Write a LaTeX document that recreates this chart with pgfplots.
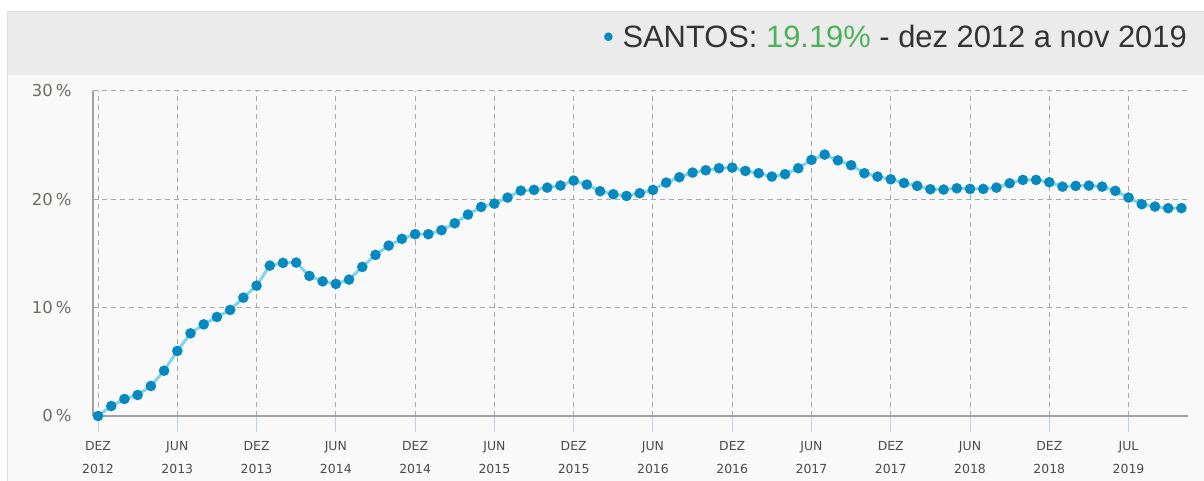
\documentclass[border=0pt]{standalone}
\usepackage{pgfplots}
\pgfplotsset{compat=1.18}
\usepackage{fontspec}
\setmainfont{DejaVu Sans}
\newfontfamily\titlefont{Liberation Sans}
\definecolor{dotblue}{HTML}{0689BE}
\definecolor{lineblue}{HTML}{80D4F0}
\definecolor{hdrgray}{HTML}{EBEBEB}
\definecolor{bggray}{HTML}{F9F9F9}
\definecolor{gridgray}{HTML}{A8A8A8}
\definecolor{axisgray}{HTML}{A0A0A0}
\definecolor{labgray}{HTML}{6E6A66}
\definecolor{xlabgray}{HTML}{4C4C4C}
\definecolor{tickblue}{HTML}{BCD4E6}
\definecolor{ttlgray}{HTML}{333333}
\definecolor{ttlgreen}{HTML}{4DB158}
\pgfplotstableread{
i v
0 0
1 0.92
2 1.57
3 1.94
4 2.77
5 4.18
6 6.0
7 7.63
8 8.46
9 9.14
10 9.79
11 10.92
12 12.03
13 13.88
14 14.13
15 14.16
16 12.93
17 12.43
18 12.19
19 12.59
20 13.76
21 14.87
22 15.73
23 16.35
24 16.78
25 16.78
26 17.15
27 17.79
28 18.59
29 19.3
30 19.6
31 20.16
32 20.8
33 20.87
34 21.08
35 21.27
36 21.73
37 21.36
38 20.75
39 20.47
40 20.31
41 20.56
42 20.87
43 21.54
44 22.04
45 22.47
46 22.68
47 22.87
48 22.93
49 22.62
50 22.41
51 22.1
52 22.32
53 22.87
54 23.64
55 24.13
56 23.6
57 23.15
58 22.41
59 22.1
60 21.85
61 21.51
62 21.24
63 20.93
64 20.9
65 21.02
66 20.96
67 20.96
68 21.08
69 21.48
70 21.79
71 21.79
72 21.58
73 21.17
74 21.24
75 21.27
76 21.17
77 20.78
78 20.16
79 19.55
80 19.33
81 19.18
82 19.19
}\santos
\begin{document}
\begin{tikzpicture}[x=1bp,y=1bp]
\useasboundingbox (0,0) rectangle (1204,481);
\fill[white] (0,0) rectangle (1204,481);
\fill[bggray] (7,0) rectangle (1204,469);
\fill[hdrgray] (7,406) rectangle (1204,469);
\draw[line width=1bp, draw=black!12] (7,0) -- (7,469) -- (1204,469);
\node[anchor=base east, inner sep=0pt, text=ttlgray] at (1187,433)
  {\titlefont\fontsize{31}{33}\selectfont\textcolor{dotblue}{•} SANTOS: \textcolor{ttlgreen}{19.19\%} - dez 2012 a nov 2019};
\begin{axis}[
  at={(93bp,65bp)}, anchor=south west,
  width=1095bp, height=325bp, scale only axis,
  xmin=-0.38, xmax=82.5, ymin=0, ymax=30,
  axis x line*=bottom, axis y line*=left,
  axis line style={axisgray, line width=1.2bp},
  xtick={0,6,...,78},
  xticklabels={{DEZ\\2012},{JUN\\2013},{DEZ\\2013},{JUN\\2014},{DEZ\\2014},{JUN\\2015},{DEZ\\2015},{JUN\\2016},{DEZ\\2016},{JUN\\2017},{DEZ\\2017},{JUN\\2018},{DEZ\\2018},{JUL\\2019}},
  ytick={0,10,20,30},
  yticklabels={0\hspace{3bp}\%,10\hspace{3bp}\%,20\hspace{3bp}\%,30\hspace{3bp}\%},
  xmajorgrids, ymajorgrids,
  grid style={gridgray, line width=1bp, dash pattern=on 5bp off 4bp},
  tick align=outside,
  x tick style={tickblue, line width=1bp},
  major tick length=16bp,
  y tick style={draw=none},
  xticklabel style={font=\fontsize{12.5}{23}\selectfont, align=center, text=xlabgray, yshift=-6bp},
  yticklabel style={font=\fontsize{16.5}{18}\selectfont, text=labgray, anchor=east, xshift=-2bp},
  clip=false,
]
\addplot[draw=lineblue, line width=3bp, mark=*, mark size=5.2bp,
  mark options={draw=dotblue, fill=dotblue, line width=0.1bp}] table[x=i, y=v] {\santos};
\end{axis}
\end{tikzpicture}
\end{document}
